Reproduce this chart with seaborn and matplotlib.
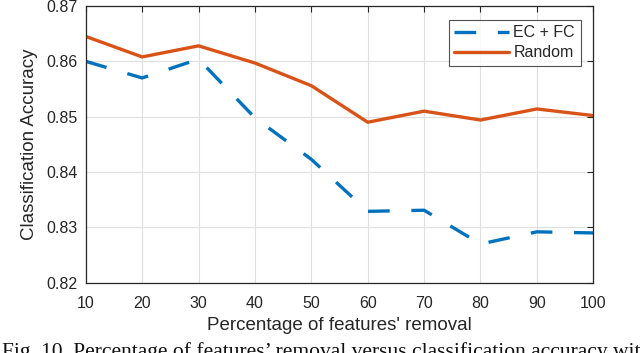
import matplotlib
matplotlib.use("Agg")
import matplotlib.pyplot as plt
import seaborn as sns
import pandas as pd

removal_pct = [10, 20, 30, 40, 50, 60, 70, 80, 90, 100]
acc_ecfc = [0.8600, 0.8570, 0.8604, 0.8498, 0.8423, 0.8329, 0.8331, 0.8270, 0.8292, 0.8290]
acc_random = [0.8645, 0.8608, 0.8628, 0.8597, 0.8556, 0.8490, 0.8510, 0.8494, 0.8514, 0.8502]
series_names = ["EC + FC", "Random"]
y_ticks = [0.82, 0.83, 0.84, 0.85, 0.86, 0.87]
x_ticks = [10, 20, 30, 40, 50, 60, 70, 80, 90, 100]

df = pd.DataFrame({
    "pct": removal_pct * 2,
    "acc": acc_ecfc + acc_random,
    "method": [series_names[0]] * len(removal_pct) + [series_names[1]] * len(removal_pct),
})

sns.set_theme(style="white")
plt.rcParams["font.family"] = ["Liberation Sans", "DejaVu Sans"]

fig = plt.figure(figsize=(6.4, 3.53), dpi=100)
ax = fig.add_axes([0.134, 0.199, 0.793, 0.784])

palette = {series_names[0]: "#0072BD", series_names[1]: "#D95319"}
dashes = {series_names[0]: (6.5, 6.5), series_names[1]: ""}
sns.lineplot(data=df, x="pct", y="acc", hue="method", style="method",
             palette=palette, dashes=dashes, linewidth=2.4, ax=ax)

ax.set_xlim(10, 100)
ax.set_ylim(0.82, 0.87)
ax.set_xticks(x_ticks)
ax.set_yticks(y_ticks)
ax.set_yticklabels([f"{v:.2f}" for v in y_ticks])
ax.grid(True, color="#dfdfdf", linewidth=0.8)
ax.set_axisbelow(True)
for s in ax.spines.values():
    s.set_color("#262626")
    s.set_linewidth(0.9)
ax.tick_params(direction="in", length=4, width=0.8, color="#262626",
               top=True, right=True, labelsize=11.5, labelcolor="#262626")
ax.tick_params(axis="x", pad=9.5)
ax.tick_params(axis="y", pad=6)
ax.set_xlabel("Percentage of features' removal", fontsize=13.5, color="#262626", labelpad=4)
ax.set_ylabel("Classification Accuracy", fontsize=13.5, color="#262626", labelpad=6)

leg = ax.legend(loc="upper right", bbox_to_anchor=(0.975, 0.95), borderaxespad=0,
                fontsize=11.5, handlelength=3.4, handletextpad=0.3, borderpad=0.35,
                labelspacing=0.3, frameon=True, fancybox=False, title=None)
leg.get_frame().set_edgecolor("#262626")
leg.get_frame().set_linewidth(0.8)

fig.text(0.003, 1 - 342 / 353, "Fig. 10. Percentage of features\u2019 removal versus classification accuracy with",
         family=["Liberation Serif", "DejaVu Serif"], fontsize=15.5, va="top", ha="left", color="#111111")

fig.savefig("out.png", dpi=100)
